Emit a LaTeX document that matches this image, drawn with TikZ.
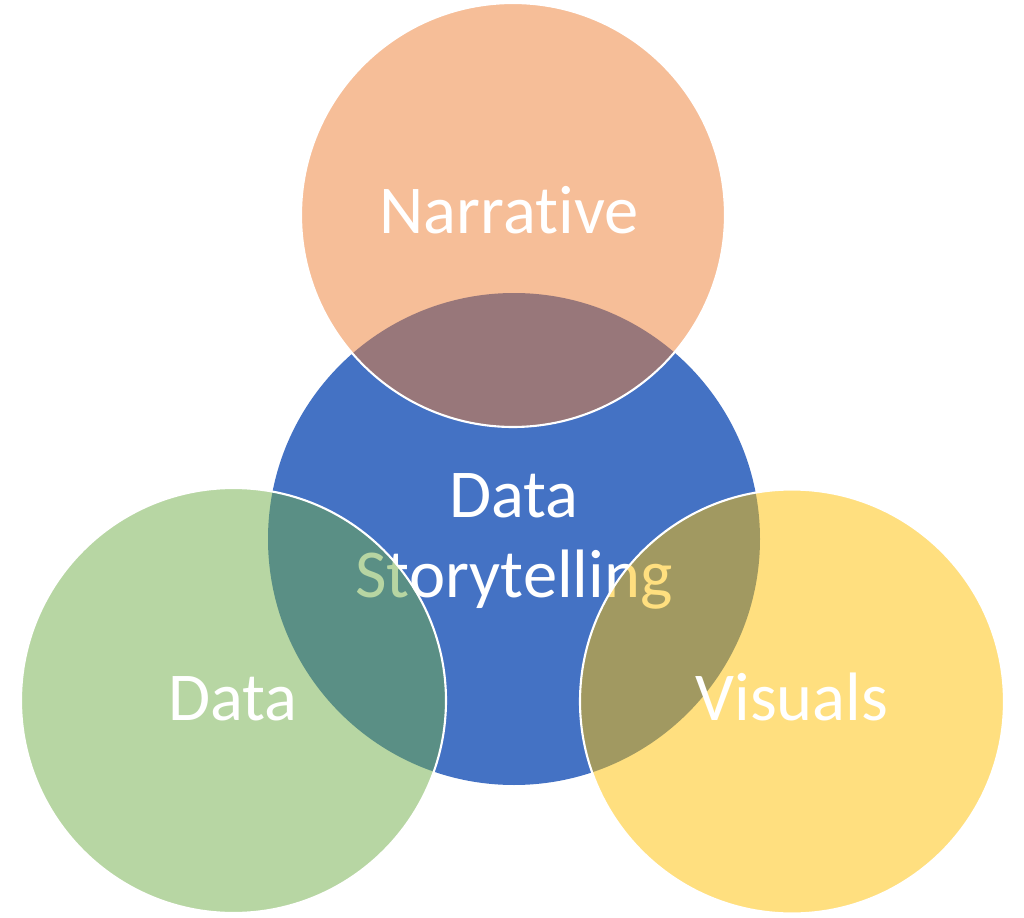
\documentclass[tikz,border=0pt]{standalone}
\usepackage{fontspec}
\setmainfont{Carlito}[Ligatures=NoCommon]
\usepackage{xcolor}
\usepackage{tikz}
\definecolor{storyblue}{HTML}{4472C4}
\definecolor{narrorange}{HTML}{ED7D31}
\definecolor{datagreen}{HTML}{70AD47}
\definecolor{visgold}{HTML}{FFC000}

\begin{document}
\begin{tikzpicture}[
  ring/.style={circle, draw=white, line width=0.6pt, fill opacity=0.5, inner sep=0pt},
  word/.style={anchor=base, text=white, inner sep=0pt, font=\fontsize{19.5}{23}\selectfont},
]
\useasboundingbox (0,0) rectangle (10.24,9.17);
\node[circle, fill=storyblue, inner sep=0pt, minimum size=4.92cm] (story) at (5.14,3.78) {};
\node[word] (storyA) at (5.14,4.00) {Data};
\node[word] (storyB) at (5.14,3.20) {Storytelling};
\node[ring, fill=narrorange, minimum size=4.24cm] (narr) at (5.13,7.02) {};
\node[ring, fill=datagreen, minimum size=4.25cm] (data) at (2.335,2.165) {};
\node[ring, fill=visgold, minimum size=4.24cm] (vis) at (7.92,2.155) {};
\node[word] (narrT) at (5.09,6.83) {Narrative};
\node[word] (dataT) at (2.33,1.97) {Data};
\node[word] (visT) at (7.92,1.97) {Visuals};
\end{tikzpicture}
\end{document}
